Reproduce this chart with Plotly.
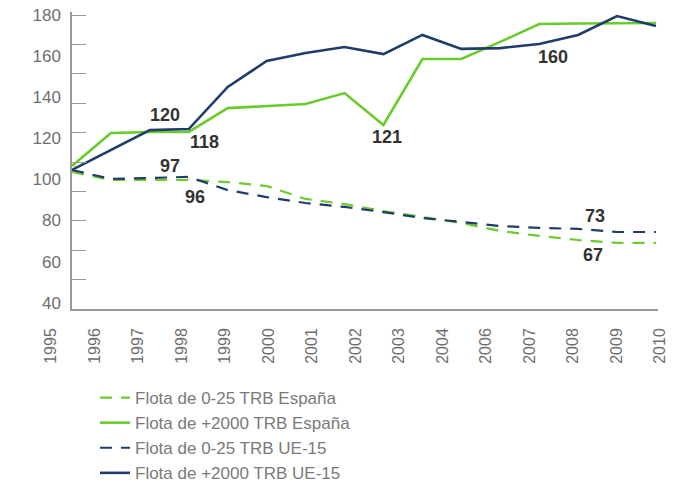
import plotly.graph_objects as go

# ---- data ----
years = [1995, 1996, 1997, 1998, 1999, 2000, 2001, 2002,
         2003, 2004, 2005, 2006, 2007, 2008, 2009, 2010]

esp_small = [103.6, 99.7, 99.7, 99.7, 98.7, 96.8, 90.5, 88.0,
             84.6, 81.7, 78.8, 74.9, 72.5, 70.5, 69.1, 69.1]
esp_large = [106.5, 122.6, 123.1, 123.1, 134.7, 135.7, 136.7, 142.0,
             126.5, 158.6, 158.6, 166.9, 175.6, 175.9, 176.1, 176.1]
ue_small = [104.6, 100.2, 100.7, 101.2, 94.8, 91.4, 88.5, 86.6,
            84.1, 81.2, 79.3, 77.3, 76.4, 75.9, 74.4, 74.4]
ue_large = [104.6, 114.3, 124.0, 124.5, 145.0, 157.6, 161.5, 164.4,
            161.0, 170.3, 163.5, 163.9, 165.9, 170.3, 179.5, 174.6]

tick_labels = ["1995", "1996", "1997", "1998", "1999", "2000", "2001", "2002",
               "2003", "2004", "2006", "2007", "2008", "2009", "2010"]
y_ticks = [40, 60, 80, 100, 120, 140, 160, 180]

series_names = ["Flota de 0-25 TRB España", "Flota de +2000 TRB España",
                "Flota de 0-25 TRB UE-15", "Flota de +2000 TRB UE-15"]

# callouts: (text, series, year)
callouts = [("120", "ue_large", 1997), ("118", "esp_large", 1998),
            ("97", "ue_small", 1998), ("96", "esp_small", 1998),
            ("121", "esp_large", 2003), ("160", "ue_large", 2007),
            ("73", "ue_small", 2008), ("67", "esp_small", 2008)]
callout_shift = [(15, 15), (16, -10), (-19, 11), (6, -17),
                 (4, -12), (14, -13), (17, 13), (15, -15)]

GREEN = "#6acb2c"
NAVY = "#1f3c6b"
GRAY_AX = "#9a9a9a"
TXT = "#6e6e6e"
FONT = "Liberation Sans, Arial, sans-serif"

data_map = {"esp_small": esp_small, "esp_large": esp_large,
            "ue_small": ue_small, "ue_large": ue_large}

fig = go.Figure()
styles = [("esp_small", GREEN, "12px,9px", 2.2),
          ("esp_large", GREEN, "solid", 2.6),
          ("ue_small", NAVY, "12px,9px", 2.2),
          ("ue_large", NAVY, "solid", 2.6)]
for (key, col, dash, w), name in zip(styles, series_names):
    fig.add_trace(go.Scatter(x=years, y=data_map[key], mode="lines", name=name,
                             line=dict(color=col, dash=dash, width=w),
                             cliponaxis=False, hoverinfo="skip"))

# helper trace carrying the category tick labels on a second x axis
fig.add_trace(go.Scatter(x=tick_labels, y=[None] * len(tick_labels), xaxis="x2",
                         yaxis="y", mode="markers", showlegend=False,
                         hoverinfo="skip", marker=dict(opacity=0)))

for (txt, key, yr), (dx, dy) in zip(callouts, callout_shift):
    fig.add_annotation(x=yr, y=data_map[key][years.index(yr)], text="<b>" + txt + "</b>",
                       showarrow=False, xshift=dx, yshift=dy,
                       font=dict(family=FONT, size=18, color="#333333"))

W, H = 679, 484
ml, mr, mt, mb = 45, 15, 12, 175
pw = W - ml - mr
ph = H - mt - mb
PL = 45  # page x of paper left edge

fig.update_layout(
    width=W, height=H,
    margin=dict(l=ml, r=mr, t=mt, b=mb, autoexpand=False),
    paper_bgcolor="white", plot_bgcolor="rgba(0,0,0,0)",
    font=dict(family=FONT, color=TXT),
    showlegend=True,
    legend=dict(orientation="v", x=(95 - PL) / pw, xanchor="left",
                y=-(380 - 309) / ph, yanchor="top", font=dict(size=17, color="#7a7a7a"),
                bgcolor="rgba(0,0,0,0)", tracegroupgap=0),
    xaxis=dict(domain=[(72 - PL) / pw, (658 - PL) / pw],
               range=[1995, 1995 + (658 - 72) / 38.93],
               showline=True, linecolor=GRAY_AX, linewidth=1.5,
               showgrid=False, zeroline=False, ticks="", showticklabels=False),
    xaxis2=dict(domain=[(51 - PL) / pw, (660 - PL) / pw], anchor="y",
                type="category", categoryorder="array", categoryarray=tick_labels,
                range=[0, len(tick_labels) - 1], showline=False, showgrid=False,
                zeroline=False, ticks="", tickangle=-90, ticklabelstandoff=15,
                ticklabeloverflow="allow",
                tickfont=dict(size=16, color=TXT)),
    yaxis=dict(range=[180 - (309 - 15) / 2.055, 180 + 3 / 2.055],
               anchor="x", showline=True, linecolor=GRAY_AX, linewidth=1.5,
               showgrid=False, zeroline=False,
               tickvals=y_ticks, ticks="", ticklabelstandoff=6,
               ticklabeloverflow="allow",
               tickfont=dict(size=17, color=TXT),
               minor=dict(ticks="inside", tick0=180, dtick=14.31, ticklen=14,
                          tickcolor=GRAY_AX, tickwidth=1.2, showgrid=False)),
)

fig.write_html("out.html", config={"displayModeBar": False},
               post_script="document.body.style.margin='0px';")
